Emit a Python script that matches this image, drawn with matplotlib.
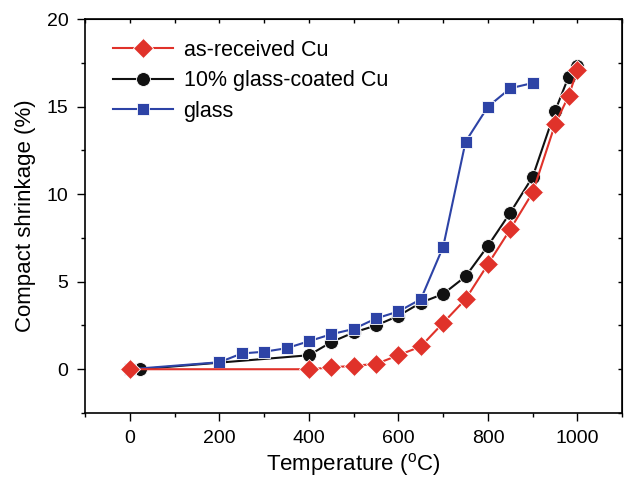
import matplotlib
matplotlib.use("Agg")
import matplotlib.pyplot as plt
from matplotlib.ticker import MultipleLocator

plt.rcParams["font.family"] = ["Liberation Sans", "DejaVu Sans"]
plt.rcParams["mathtext.fontset"] = "custom"
plt.rcParams["mathtext.rm"] = "Liberation Sans"

# as-received Cu
cu_temp = [0, 400, 450, 500, 550, 600, 650, 700, 750, 800, 850, 900, 950, 980, 1000]
cu_shrink = [0, 0, 0.1, 0.2, 0.3, 0.8, 1.3, 2.65, 4.0, 6.0, 8.0, 10.1, 14.0, 15.6, 17.1]

# 10% glass-coated Cu
coated_temp = [22, 400, 450, 500, 550, 600, 650, 700, 750, 800, 850, 900, 950, 980, 1000]
coated_shrink = [0, 0.8, 1.55, 2.1, 2.5, 3.05, 3.8, 4.3, 5.3, 7.05, 8.95, 11.0, 14.75, 16.7, 17.3]

# glass
glass_temp = [0, 200, 250, 300, 350, 400, 450, 500, 550, 600, 650, 700, 750, 800, 850, 900]
glass_shrink = [0, 0.4, 0.9, 1.0, 1.2, 1.6, 2.0, 2.3, 2.9, 3.3, 4.0, 7.0, 13.0, 15.0, 16.05, 16.35]

red = "#e0322a"
black = "#111111"
blue = "#2d43a6"

fig = plt.figure(figsize=(6.26, 4.78), dpi=100)
ax = fig.add_axes([0.136, 0.136, 0.858, 0.824])

l_coated, = ax.plot(coated_temp, coated_shrink, "-o", color=black, lw=1.5, ms=10,
                    mec="white", mew=0.6, zorder=3, label="10% glass-coated Cu")
l_glass, = ax.plot(glass_temp, glass_shrink, "-s", color=blue, lw=1.5, ms=9,
                   mec="white", mew=0.6, zorder=4, label="glass")
l_cu, = ax.plot(cu_temp, cu_shrink, "-D", color=red, lw=1.5, ms=10,
                mec="white", mew=0.6, zorder=5, label="as-received Cu")

ax.set_xlim(-100, 1100)
ax.set_ylim(-2.5, 20)
ax.xaxis.set_major_locator(MultipleLocator(200))
ax.xaxis.set_minor_locator(MultipleLocator(100))
ax.yaxis.set_major_locator(MultipleLocator(5))
ax.yaxis.set_minor_locator(MultipleLocator(2.5))

ax.tick_params(which="both", direction="out", top=False, right=False, labelsize=14, width=1)
ax.tick_params(which="major", length=6, pad=6)
ax.tick_params(which="minor", length=3)

# inward ticks on top and right
tx = ax.secondary_xaxis("top")
tx.xaxis.set_major_locator(MultipleLocator(100))
tx.tick_params(direction="in", length=3, labeltop=False, width=1)
ty = ax.secondary_yaxis("right")
ty.yaxis.set_major_locator(MultipleLocator(2.5))
ty.tick_params(direction="in", length=3, labelright=False, width=1)

for s in ax.spines.values():
    s.set_linewidth(1.2)

ax.set_xlabel("Temperature ($^{\\mathregular{o}}$C)", fontsize=16, labelpad=3)
ax.set_ylabel("Compact shrinkage (%)", fontsize=16, labelpad=8)

ax.legend(handles=[l_cu, l_coated, l_glass], loc="upper left", frameon=False,
          fontsize=15.5, handlelength=2.8, handletextpad=0.5, labelspacing=0.45,
          borderaxespad=0, bbox_to_anchor=(0.035, 0.97))

fig.savefig("out.png", dpi=100)
